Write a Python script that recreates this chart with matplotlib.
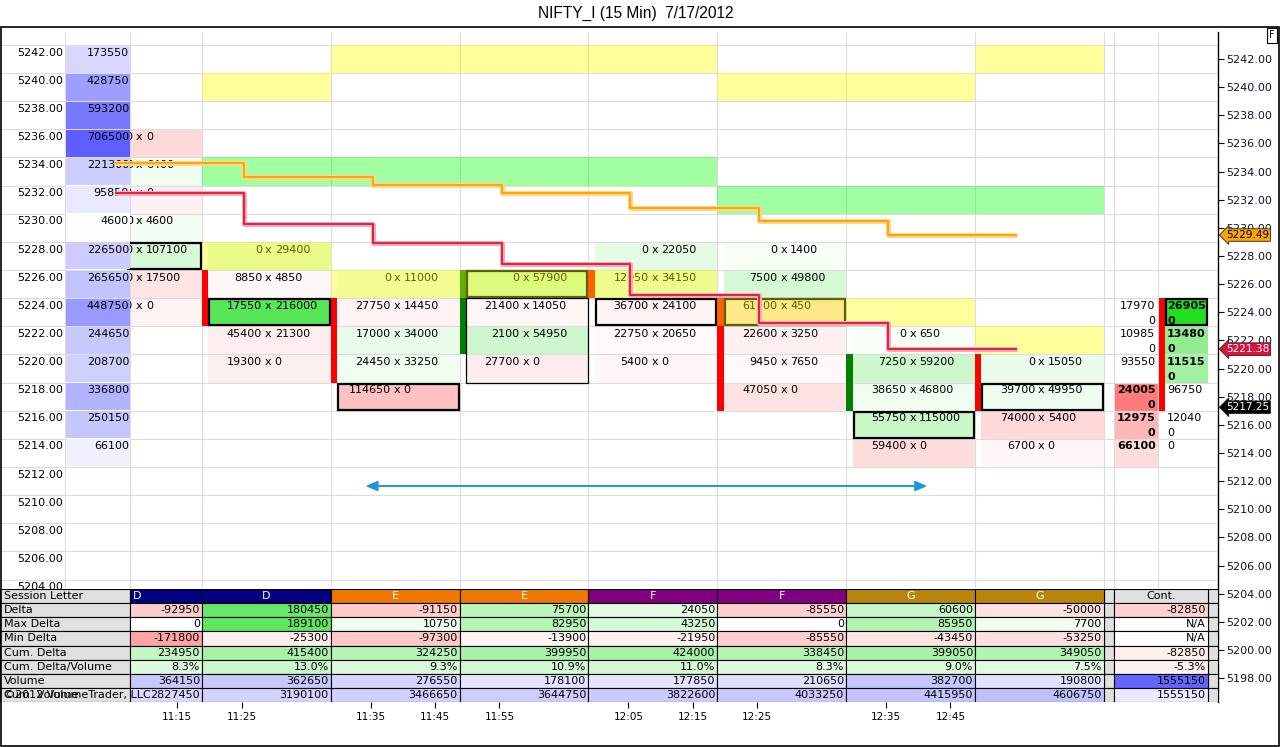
import matplotlib
matplotlib.use("Agg")
import matplotlib.pyplot as plt
from matplotlib.patches import Rectangle

plt.rcParams['font.family'] = ['DejaVu Sans']

# ---------------------------------------------------------------- DATA
TITLE = "NIFTY_I (15 Min)  7/17/2012"

profile_prices = [5242, 5240, 5238, 5236, 5234, 5232, 5230, 5228, 5226, 5224,
                  5222, 5220, 5218, 5216, 5214]
profile_volume = [173550, 428750, 593200, 706500, 221300, 95850, 4600, 226500,
                  265650, 448750, 244650, 208700, 336800, 250150, 66100]

session_letters = ["D", "D", "E", "E", "F", "F", "G", "G"]

bar_prices = [
    [5236, 5234, 5232, 5230, 5228, 5226, 5224],
    [5228, 5226, 5224, 5222, 5220],
    [5226, 5224, 5222, 5220, 5218],
    [5226, 5224, 5222, 5220],
    [5228, 5226, 5224, 5222, 5220],
    [5228, 5226, 5224, 5222, 5220, 5218],
    [5222, 5220, 5218, 5216, 5214],
    [5220, 5218, 5216, 5214],
]
# bar 0 bids are hidden behind the volume-profile column (estimated)
bar_bids = [
    [66650, 0, 18500, 0, 66550, 62050, 14800],
    [0, 8850, 17550, 45400, 19300],
    [0, 27750, 17000, 24450, 114650],
    [0, 21400, 2100, 27700],
    [0, 12050, 36700, 22750, 5400],
    [0, 7500, 61500, 22600, 9450, 47050],
    [0, 7250, 38650, 55750, 59400],
    [0, 39700, 74000, 6700],
]
bar_asks = [
    [0, 6400, 0, 4600, 107100, 17500, 0],
    [29400, 4850, 216000, 21300, 0],
    [11000, 14450, 34000, 33250, 0],
    [57900, 14050, 54950, 0],
    [22050, 34150, 24100, 20650, 0],
    [1400, 49800, 450, 3250, 7650, 0],
    [650, 59200, 46800, 115000, 0],
    [15050, 49950, 5400, 0],
]
bar_open = [None, 5226, 5224, 5222, 5226, 5224, 5218, 5220]
bar_close = [None, 5224, 5220, 5226, 5226, 5218, 5220, 5218]

upper_level = [None, 5240, 5242, 5242, 5242, 5240, 5240, 5242]
lower_level = [None, 5228, 5226, 5226, 5226, 5224, 5224, 5222]
poc_level = [None, 5234, 5234, 5234, 5234, 5232, 5232, 5232]
thin_box = (3, 5220, 5224)

cont_prices = [5224, 5222, 5220, 5218, 5216, 5214]
cont_bid = [179700, 109850, 93550, 240050, 129750, 66100]
cont_ask = [269050, 134800, 115150, 96750, 120400, 0]
cont_open, cont_close = 5224, 5218

line_orange = [5234.61, 5233.61, 5233.04, 5232.48, 5231.41, 5230.49, 5229.49]
line_crimson = [5232.48, 5230.27, 5228.92, 5227.43, 5225.23, 5223.24, 5221.38]
last_price = 5217.25

arrow_from, arrow_to, arrow_price = 2.27, 6.63, 5211.65

row_labels = ["Session Letter", "Delta", "Max Delta", "Min Delta", "Cum. Delta",
              "Cum. Delta/Volume", "Volume", "Cum. Volume"]
delta = [-92950, 180450, -91150, 75700, 24050, -85550, 60600, -50000, -82850]
max_delta = [0, 189100, 10750, 82950, 43250, 0, 85950, 7700, None]
min_delta = [-171800, -25300, -97300, -13900, -21950, -85550, -43450, -53250, None]
cum_delta = [234950, 415400, 324250, 399950, 424000, 338450, 399050, 349050, -82850]
cum_delta_vol = [8.3, 13.0, 9.3, 10.9, 11.0, 8.3, 9.0, 7.5, -5.3]
volume = [364150, 362650, 276550, 178100, 177850, 210650, 382700, 190800, 1555150]
cum_volume = [2827450, 3190100, 3466650, 3644750, 3822600, 4033250, 4415950, 4606750, 1555150]

time_labels = ["11:15", "11:25", "11:35", "11:45", "11:55", "12:05", "12:15",
               "12:25", "12:35", "12:45"]
time_pos = [0.81, 1.31, 2.31, 2.81, 3.31, 4.31, 4.81, 5.31, 6.31, 6.81]

# ---------------------------------------------------------------- LAYOUT
FIG_W, FIG_H = 1280, 747
PLOT_RIGHT = 1218
PANEL_TOP, PANEL_BOTTOM, TABLE_TOP = 27, 702, 589
PRICE_REF, PRICE_REF_Y, PX_PER_PRICE = 5242, 59, 14.07
BAR_X0, BAR_W, STRIP_W = 73, 128.85, 6.5
VIS_LEFT = 130
LINE_OFF = 0.326
PROF_X0, PROF_X1 = 66, 129.5
CONT_X0, CONT_MID, CONT_STRIP, CONT_X1 = 1114, 1158, 1165, 1208
TXT_DY = 0.46
FS = 8
GRID = '#dcdcdc'


def bx(u):
    return BAR_X0 + BAR_W * u


def fx(px):
    return px / FIG_W


def fy(py):
    return 1 - py / FIG_H


def price_at(py):
    return PRICE_REF - (py - PRICE_REF_Y) / PX_PER_PRICE


def shade(v, gk, rk, gmin=8, rmin=5, cap=170):
    if v is None or v == 0:
        return (1, 1, 1)
    if v > 0:
        o = min(cap, gmin + gk * v)
        return ((255 - o) / 255, (255 - 0.15 * o) / 255, (255 - o) / 255)
    o = min(cap, rmin + rk * (-v))
    return (1, (255 - o) / 255, (255 - o) / 255)


def blue(v, k, cap=160):
    o = min(cap, k * v)
    return ((255 - o) / 255, (255 - o) / 255, 1)


fig = plt.figure(figsize=(FIG_W / 100, FIG_H / 100), dpi=100)

# ---------------------------------------------------------------- MAIN PANEL
ax = fig.add_axes([0, fy(PANEL_BOTTOM), fx(PLOT_RIGHT), fy(PANEL_TOP) - fy(PANEL_BOTTOM)])
ax.set_xlim(0, PLOT_RIGHT)
y_lo, y_hi = price_at(PANEL_BOTTOM), price_at(PANEL_TOP)
ax.set_ylim(y_lo, y_hi)
for s in ['left', 'top', 'bottom']:
    ax.spines[s].set_visible(False)
ax.spines['right'].set_bounds(y_lo, price_at(32))
ax.spines['right'].set_linewidth(1.0)
ax.set_xticks([])
ax.yaxis.tick_right()
yt = list(range(5198, 5243, 2))
ax.set_yticks(yt)
ax.set_yticklabels([f"{p:.2f}" for p in yt])
ax.tick_params(axis='y', direction='out', length=4, pad=2, labelsize=FS,
               labelcolor='#101030', width=0.8)

grid_top = price_at(32)
# gridlines
odd = [p + 1 for p in range(5196, 5244, 2)]
ax.hlines(odd, 0, PLOT_RIGHT, colors=GRID, lw=0.8, zorder=2)
vx = [65, VIS_LEFT] + [bx(k) for k in range(1, 9)] + [CONT_X0, CONT_MID]
ax.vlines(vx, y_lo, grid_top, colors=GRID, lw=0.8, zorder=2)

# left price labels
for p in range(5204, 5243, 2):
    ax.text(63, p + TXT_DY, f"{p:.2f}", ha='right', va='center', fontsize=FS, zorder=3)

# volume profile
vmax = max(profile_volume)
for p, v in zip(profile_prices, profile_volume):
    ax.add_patch(Rectangle((PROF_X0, p - 1 + 0.04), PROF_X1 - PROF_X0, 1.92,
                           fc=blue(v, 160 / vmax), ec='none', zorder=3.6))
    ax.text(PROF_X1 - 0.5, p + TXT_DY, str(v), ha='right', va='center',
            fontsize=FS, zorder=3.7)

# footprint bars
for k in range(8):
    left = bx(k)
    cx0, cx1 = left + STRIP_W, bx(k + 1)
    cc = (cx0 + cx1) / 2 - 1.2
    vis0 = max(cx0, VIS_LEFT)
    vols = [b + a for b, a in zip(bar_bids[k], bar_asks[k])]
    poc = bar_prices[k][vols.index(max(vols))]
    for p, b, a in zip(bar_prices[k], bar_bids[k], bar_asks[k]):
        ax.add_patch(Rectangle((vis0, p - 1), cx1 - vis0, 2, fc=shade(a - b, 0.0008, 0.0005),
                               ec='none', zorder=1))
        ax.text(cc - 6.3, p + TXT_DY, str(b), ha='right', va='center', fontsize=FS, zorder=3)
        ax.text(cc, p + TXT_DY, "x", ha='center', va='center', fontsize=FS, zorder=3)
        ax.text(cc + 6.3, p + TXT_DY, str(a), ha='left', va='center', fontsize=FS, zorder=3)
        if p == poc:
            bl = vis0 + 1 if vis0 == cx0 else vis0 - 2
            ax.add_patch(Rectangle((bl, p - 1 + 0.07), cx1 - 1 - bl, 1.86, fc='none',
                                   ec='black', lw=1.6, zorder=3.5))
    if bar_open[k] is not None:
        lo, hi = min(bar_open[k], bar_close[k]), max(bar_open[k], bar_close[k])
        col = '#008000' if bar_close[k] > bar_open[k] else '#ff0000'
        ax.add_patch(Rectangle((left, lo - 1), STRIP_W, hi - lo + 2, fc=col, ec='none', zorder=2.5))
    if poc_level[k] is not None:
        ax.add_patch(Rectangle((left, poc_level[k] - 1), BAR_W, 2, fc='#00ff00', alpha=0.37,
                               ec='none', zorder=2.2))
    for lv in (upper_level[k], lower_level[k]):
        if lv is not None:
            ax.add_patch(Rectangle((left, lv - 1), BAR_W, 2, fc='#ffff00', alpha=0.38,
                                   ec='none', zorder=4))

tk, tlo, thi = thin_box
ax.add_patch(Rectangle((bx(tk) + STRIP_W, tlo - 1), BAR_W - STRIP_W, thi - tlo + 2, fc='none',
                       ec='black', lw=0.9, zorder=3.5))

# continuation column
cvol = [b + a for b, a in zip(cont_bid, cont_ask)]
cpoc = cont_prices[cvol.index(max(cvol))]


def put(x, p, v, ha, weight):
    s = str(v)
    if len(s) <= 5:
        ax.text(x, p + TXT_DY, s, ha=ha, va='center', fontsize=FS, fontweight=weight, zorder=3)
    else:
        ax.text(x, p + TXT_DY, s[:5], ha=ha, va='center', fontsize=FS, fontweight=weight, zorder=3)
        ax.text(x, p + TXT_DY - 1.05, s[5:], ha=ha, va='center', fontsize=FS,
                fontweight=weight, zorder=3)


for p, b, a in zip(cont_prices, cont_bid, cont_ask):
    if a > b:
        o = min(230, 0.00082 * a)
        ax.add_patch(Rectangle((CONT_STRIP, p - 1), CONT_X1 - CONT_STRIP, 2,
                               fc=((255 - o) / 255, (255 - 0.15 * o) / 255, (255 - o) / 255),
                               ec='none', zorder=1))
        bw, aw = 'normal', 'bold'
    else:
        o = min(170, 0.00055 * b)
        ax.add_patch(Rectangle((CONT_X0 + 0.5, p - 1), CONT_MID - CONT_X0 - 0.5, 2,
                               fc=(1, (255 - o) / 255, (255 - o) / 255), ec='none', zorder=1))
        bw, aw = 'bold', 'normal'
    put(CONT_MID - 2.5, p, b, 'right', bw)
    put(CONT_STRIP + 2, p, a, 'left', aw)
    if p == cpoc:
        ax.add_patch(Rectangle((CONT_STRIP + 1, p - 1 + 0.07), CONT_X1 - CONT_STRIP - 2, 1.86,
                               fc='none', ec='black', lw=1.6, zorder=3.5))
clo, chi = min(cont_open, cont_close), max(cont_open, cont_close)
ax.add_patch(Rectangle((CONT_MID + 1, clo - 1), CONT_STRIP - CONT_MID - 1, chi - clo + 2,
                       fc='#ff0000' if cont_close <= cont_open else '#008000', ec='none', zorder=2.5))

# step lines
xs = [bx(k + LINE_OFF) for k in range(8)]
for lv, core, halo in ((line_orange, '#ffa500', '#ffd68a'), (line_crimson, '#e0203f', '#f6a9b8')):
    ys = lv + [lv[-1]]
    ax.step(xs, ys, where='post', color=halo, lw=3.6, zorder=5, solid_capstyle='butt')
    ax.step(xs, ys, where='post', color=core, lw=1.4, zorder=5.1, solid_capstyle='butt')

# blue double arrow
ax.annotate("", xy=(bx(arrow_to), arrow_price), xytext=(bx(arrow_from), arrow_price),
            arrowprops=dict(arrowstyle='<|-|>,head_length=0.7,head_width=0.3',
                            color='#1e96d8', lw=1.4, shrinkA=0, shrinkB=0), zorder=5)

# right price tags
for price, txt, fc, tc in ((line_orange[-1], f"{line_orange[-1]:.2f}", '#ffa500', 'black'),
                           (line_crimson[-1], f"{line_crimson[-1]:.2f}", '#dc143c', 'white'),
                           (last_price, f"{last_price:.2f}", 'black', 'white')):
    ax.text(PLOT_RIGHT + 8, price, txt, ha='left', va='center', fontsize=7.6, color=tc,
            bbox=dict(boxstyle='larrow,pad=0.12', fc=fc, ec='#202020', lw=0.6),
            clip_on=False, zorder=10)

# ---------------------------------------------------------------- TABLE
axt = fig.add_axes([0, fy(PANEL_BOTTOM), fx(PLOT_RIGHT), fy(TABLE_TOP) - fy(PANEL_BOTTOM)])
axt.set_xlim(0, PLOT_RIGHT)
axt.set_ylim(8, 0)
for s in axt.spines.values():
    s.set_visible(False)
axt.set_yticks([])
axt.set_xticks([bx(p) for p in time_pos])
axt.set_xticklabels(time_labels)
axt.tick_params(axis='x', direction='out', length=4, pad=3, labelsize=7.5, width=0.8)

cols = [(VIS_LEFT, bx(1))] + [(bx(k), bx(k + 1)) for k in range(1, 8)] + [(CONT_X0, CONT_X1)]
session_colors = {"D": '#000080', "E": '#f07800', "F": '#800080', "G": '#b8860b'}


def cell(x0, x1, r, fc):
    axt.add_patch(Rectangle((x0, r), x1 - x0, 1, fc=fc, ec='black', lw=0.8))


for r, lab in enumerate(row_labels):
    cell(0, VIS_LEFT, r, '#e0e0e0')
    cell(bx(8), CONT_X0, r, '#e0e0e0')
    cell(CONT_X1, PLOT_RIGHT, r, '#e0e0e0')
    axt.text(4, r + 0.5, lab, ha='left', va='center', fontsize=FS)
axt.text(4, 7.5, "\u00a92012 VolumeTrader, LLC", ha='left', va='center', fontsize=FS)

for i, (x0, x1) in enumerate(cols):
    if i < 8:
        L = session_letters[i]
        cell(x0, x1, 0, session_colors[L])
        axt.text((bx(i) + bx(i + 1)) / 2, 0.5, L, ha='center', va='center', fontsize=FS,
                 color='white')
    else:
        cell(x0, x1, 0, '#e0e0e0')
        axt.text((x0 + x1) / 2, 0.5, "Cont.", ha='center', va='center', fontsize=FS)
    rows = [
        (shade(delta[i], 0.0008, 0.0005), str(delta[i])),
        (shade(max_delta[i], 0.0008, 0.0005),
         "N/A" if max_delta[i] is None else str(max_delta[i])),
        (shade(min_delta[i], 0.0008, 0.0005),
         "N/A" if min_delta[i] is None else str(min_delta[i])),
        (shade(cum_delta[i], 0.00015, 0.00012, gmin=25), str(cum_delta[i])),
        (shade(cum_delta_vol[i], 4.0, 2.8, gmin=0, rmin=0), f"{cum_delta_vol[i]:.1f}%"),
        (blue(volume[i], 0.000151, cap=155), str(volume[i])),
        (blue(cum_volume[i], 1.37e-5), str(cum_volume[i])),
    ]
    for r, (fc, txt) in enumerate(rows, start=1):
        cell(x0, x1, r, fc)
        axt.text(x1 - 2, r + 0.5, txt, ha='right', va='center', fontsize=FS)

# ---------------------------------------------------------------- FRAME / TITLE
fig.add_artist(Rectangle((fx(0.5), fy(745.5)), fx(1279) - fx(0.5), fy(PANEL_TOP) - fy(745.5),
                         transform=fig.transFigure, fc='none', ec='black', lw=1.2))
fig.text(fx(636), fy(13.5), TITLE, ha='center', va='center', fontsize=11.2,
         family=['Liberation Sans', 'DejaVu Sans'])
fig.text(fx(1272), fy(35.5), "F", ha='center', va='center', fontsize=7,
         bbox=dict(boxstyle='square,pad=0.25', fc='white', ec='black', lw=0.8))

fig.savefig("out.png", dpi=100)
